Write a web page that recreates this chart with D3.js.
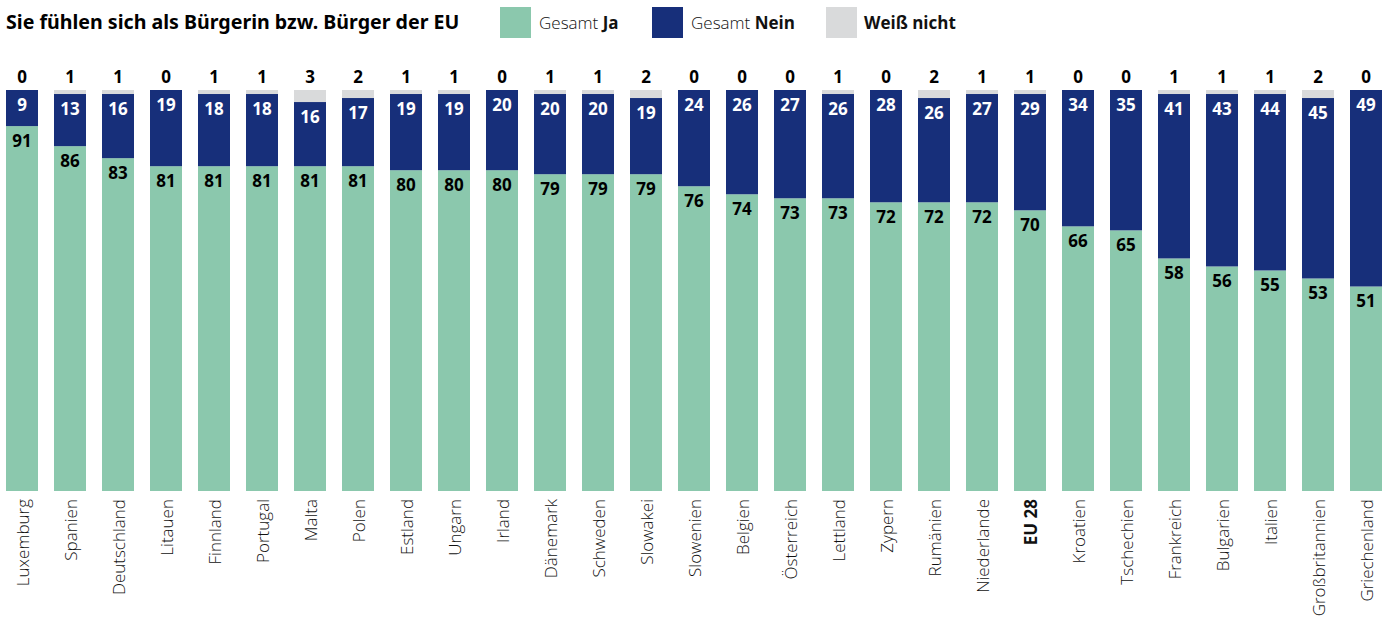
<!DOCTYPE html>
<html>
<head>
<meta charset="utf-8">
<script src="https://cdn.jsdelivr.net/npm/d3@7"></script>
<style>
    body { margin: 0; background: #ffffff; }
    svg { display: block; font-family: "Open Sans", "Noto Sans", sans-serif; }
</style>
</head>
<body>
<svg id="eu-chart"></svg>
<script>
// Countries (and the EU average) in the order shown in the chart
const countries = ["Luxemburg", "Spanien", "Deutschland", "Litauen", "Finnland", "Portugal", "Malta", "Polen",
    "Estland", "Ungarn", "Irland", "Dänemark", "Schweden", "Slowakei", "Slowenien", "Belgien", "Österreich",
    "Lettland", "Zypern", "Rumänien", "Niederlande", "EU 28", "Kroatien", "Tschechien", "Frankreich",
    "Bulgarien", "Italien", "Großbritannien", "Griechenland"];

// Share of answers in percent, one value per country
const ja_values = [91, 86, 83, 81, 81, 81, 81, 81, 80, 80, 80, 79, 79, 79, 76, 74, 73, 73, 72, 72, 72, 70, 66, 65, 58, 56, 55, 53, 51];
const nein_values = [9, 13, 16, 19, 18, 18, 16, 17, 19, 19, 20, 20, 20, 19, 24, 26, 27, 26, 28, 26, 27, 29, 34, 35, 41, 43, 44, 45, 49];
const weiss_nicht_values = [0, 1, 1, 0, 1, 1, 3, 2, 1, 1, 0, 1, 1, 2, 0, 0, 0, 1, 0, 2, 1, 1, 0, 0, 1, 1, 1, 2, 0];

// Legend entries
const legend_items = [
    { key: "ja", prefix: "Gesamt ", bold: "Ja" },
    { key: "nein", prefix: "Gesamt ", bold: "Nein" },
    { key: "weiss", prefix: "", bold: "Weiß nicht" }
];

const chart_title = "Sie fühlen sich als Bürgerin bzw. Bürger der EU";

// Build the stacking table from the arrays
const table = countries.map((c, i) => ({
    country: c,
    ja: ja_values[i],
    nein: nein_values[i],
    weiss: weiss_nicht_values[i]
}));

// Dimensions
const width = 1390, height = 624;
const plot_top = 90, plot_bottom = 491;

const colors = { ja: "#8bc8ad", nein: "#172f7a", weiss: "#d9dadb" };

const svg = d3.select("#eu-chart")
    .attr("width", width)
    .attr("height", height);

// Scales
const x_scale = d3.scaleBand()
    .domain(countries)
    .range([-2, 1390])
    .paddingInner(1 / 3)
    .paddingOuter(1 / 6);
const y_scale = d3.scaleLinear()
    .domain([0, 100])
    .range([plot_bottom, plot_top]);

// Stack the answers: Ja at the bottom, then Nein, then Weiß nicht
const stack = d3.stack().keys(["ja", "nein", "weiss"]);
const series = stack(table);

// Title
svg.append("text")
    .attr("x", 6)
    .attr("y", 29)
    .style("font-family", "'Noto Sans', sans-serif")
    .style("font-size", "19.6px")
    .style("font-weight", "bold")
    .attr("fill", "#000")
    .text(chart_title);

// Legend
const legend_x = [500, 652, 826];
const legend = svg.selectAll(".legend-item")
    .data(legend_items)
    .enter()
    .append("g")
    .attr("class", "legend-item")
    .attr("transform", (d, i) => `translate(${legend_x[i]}, 7)`);

legend.append("rect")
    .attr("width", 31)
    .attr("height", 31)
    .attr("fill", d => colors[d.key]);

const legend_text = legend.append("text")
    .attr("x", d => d.prefix ? 39 : 38)
    .attr("y", 22)
    .style("font-size", "17px")
    .attr("fill", "#111");
legend_text.append("tspan")
    .style("font-weight", "300")
    .text(d => d.prefix);
legend_text.append("tspan")
    .style("font-weight", "bold")
    .text(d => d.bold);

// Bars
const layers = svg.selectAll(".layer")
    .data(series)
    .enter()
    .append("g")
    .attr("class", "layer")
    .attr("fill", d => colors[d.key]);

layers.selectAll("rect")
    .data(d => d)
    .enter()
    .append("rect")
    .attr("x", d => x_scale(d.data.country))
    .attr("y", d => y_scale(d[1]))
    .attr("width", x_scale.bandwidth())
    .attr("height", d => y_scale(d[0]) - y_scale(d[1]));

const ja_series = series[0], nein_series = series[1];

// Value labels for Ja, just under the top of the green segment
svg.selectAll(".ja-label")
    .data(ja_series)
    .enter()
    .append("text")
    .attr("class", "ja-label")
    .attr("x", d => x_scale(d.data.country) + x_scale.bandwidth() / 2)
    .attr("y", d => y_scale(d[1]) + 15)
    .attr("dy", "0.35em")
    .attr("text-anchor", "middle")
    .style("font-size", "17px")
    .style("font-weight", "bold")
    .attr("fill", "#000")
    .text(d => d.data.ja);

// Value labels for Nein, just under the top of the blue segment
svg.selectAll(".nein-label")
    .data(nein_series)
    .enter()
    .append("text")
    .attr("class", "nein-label")
    .attr("x", d => x_scale(d.data.country) + x_scale.bandwidth() / 2)
    .attr("y", d => y_scale(d[1]) + 15)
    .attr("dy", "0.35em")
    .attr("text-anchor", "middle")
    .style("font-size", "17px")
    .style("font-weight", "bold")
    .attr("fill", "#fff")
    .text(d => d.data.nein);

// Weiß nicht values above the bars
svg.selectAll(".weiss-label")
    .data(table)
    .enter()
    .append("text")
    .attr("class", "weiss-label")
    .attr("x", d => x_scale(d.country) + x_scale.bandwidth() / 2)
    .attr("y", 77)
    .attr("dy", "0.35em")
    .attr("text-anchor", "middle")
    .style("font-size", "17px")
    .style("font-weight", "bold")
    .attr("fill", "#000")
    .text(d => d.weiss);

// Country names, rotated under the bars
svg.selectAll(".country-label")
    .data(countries)
    .enter()
    .append("text")
    .attr("class", "country-label")
    .attr("transform", d => `translate(${x_scale(d) + x_scale.bandwidth() / 2 + 1}, 499) rotate(-90)`)
    .attr("dy", "0.35em")
    .attr("text-anchor", "end")
    .style("font-size", "17px")
    .style("font-weight", d => d === "EU 28" ? "bold" : "300")
    .attr("fill", "#111")
    .text(d => d);
</script>
</body>
</html>
